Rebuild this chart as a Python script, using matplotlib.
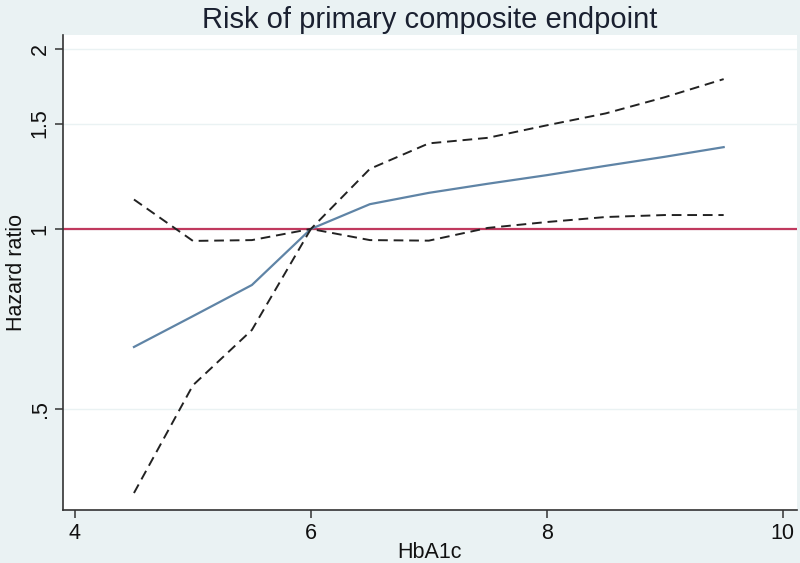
import matplotlib
matplotlib.use("Agg")
import matplotlib.pyplot as plt
from matplotlib.ticker import FixedLocator, FixedFormatter, NullLocator

plt.rcParams['font.family'] = ['Liberation Sans', 'DejaVu Sans']

hba1c = [4.5, 5.0, 5.5, 6.0, 6.5, 7.0, 7.5, 8.0, 8.5, 9.0, 9.5]
hr = [0.635, 0.715, 0.806, 1.0, 1.10, 1.149, 1.19, 1.23, 1.275, 1.32, 1.37]
upper = [1.12, 0.955, 0.958, 1.0, 1.26, 1.39, 1.42, 1.49, 1.56, 1.66, 1.78]
lower = [0.362, 0.548, 0.678, 1.0, 0.958, 0.956, 1.004, 1.027, 1.047, 1.055, 1.055]

x_ticks = [4, 6, 8, 10]
y_ticks = [0.5, 1, 1.5, 2]
y_labels = [".5", "1", "1.5", "2"]

bg = "#eaf2f3"
fig = plt.figure(figsize=(8, 5.63), dpi=100, facecolor=bg)
ax = fig.add_axes([0.079, 0.094, 0.917, 0.844])
ax.set_facecolor("white")

ax.set_yscale("log")
ax.set_xlim(3.9, 10.12)
ax.set_ylim(0.339, 2.11)

for yt in y_ticks:
    ax.axhline(yt, color=bg, lw=1.0, zorder=0)

ax.axhline(1, color="#c0395e", lw=1.6, zorder=2)
ax.plot(hba1c, hr, color="#5f84a6", lw=1.6, zorder=3)
ax.plot(hba1c, upper, color="#222222", lw=1.4, ls=(0, (5, 3)), zorder=4)
ax.plot(hba1c, lower, color="#222222", lw=1.4, ls=(0, (5, 3)), zorder=4)

ax.yaxis.set_major_locator(FixedLocator(y_ticks))
ax.yaxis.set_major_formatter(FixedFormatter(y_labels))
ax.yaxis.set_minor_locator(NullLocator())
ax.set_xticks(x_ticks)
ax.set_xticklabels([str(t) for t in x_ticks])

for s in ["top", "right"]:
    ax.spines[s].set_visible(False)
for s in ["left", "bottom"]:
    ax.spines[s].set_color("#333333")
    ax.spines[s].set_linewidth(1.2)

ax.tick_params(axis="both", direction="out", length=6, width=1.1, color="#333333",
               labelsize=15.5, labelcolor="#111111", pad=3)
for lab in ax.get_yticklabels():
    lab.set_rotation(90)
    lab.set_va("center")

ax.set_xlabel("HbA1c", fontsize=15.5, color="#111111", labelpad=-1)
ax.set_ylabel("Hazard ratio", fontsize=15.5, color="#111111", labelpad=2)
fig.text(0.5375, 0.99, "Risk of primary composite endpoint", fontsize=21,
         color="#1a2030", ha="center", va="top")

fig.savefig("out.png", dpi=100, facecolor=bg)
